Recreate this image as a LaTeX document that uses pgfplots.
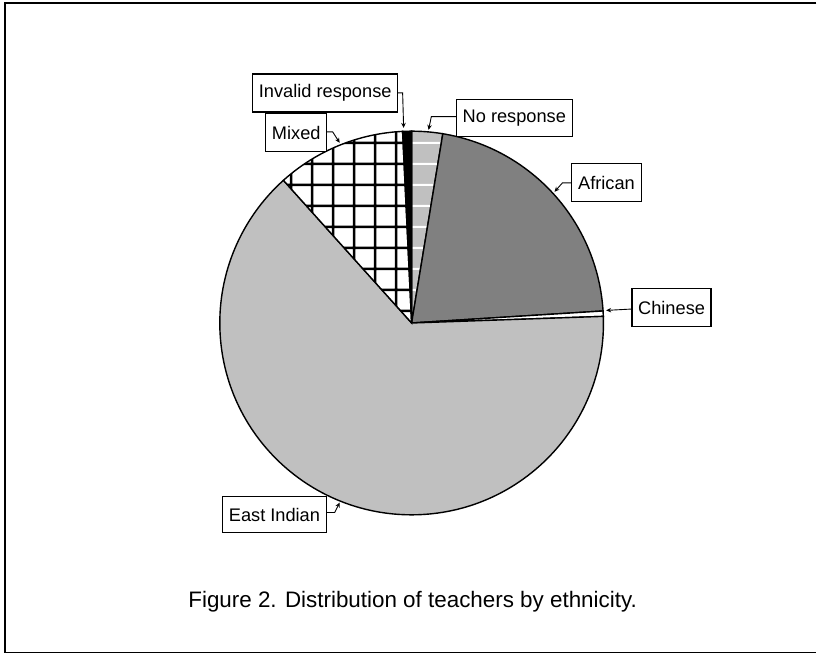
\documentclass[border=0pt]{standalone}
\usepackage{fontspec}
\setmainfont{Liberation Sans}
\usepackage{pgfplots}
\usepackage{pgfplotstable}
\pgfplotsset{compat=1.18}
\usetikzlibrary{arrows.meta,patterns.meta}
\definecolor{lgray}{HTML}{C0C0C0}
\definecolor{dgray}{HTML}{808080}

\pgfdeclarepattern{
  name=hstripes,
  type=uncolored,
  bottom left={\pgfpoint{0bp}{0bp}},
  top right={\pgfpoint{20.7bp}{20.7bp}},
  tile size={\pgfpoint{20.7bp}{20.7bp}},
  code={\pgfpathrectangle{\pgfpoint{-0.5bp}{11.2bp}}{\pgfpoint{21.7bp}{2bp}}\pgfusepath{fill}}
}
\pgfdeclarepattern{
  name=xgrid,
  type=uncolored,
  bottom left={\pgfpoint{0bp}{0bp}},
  top right={\pgfpoint{20.7bp}{20.7bp}},
  tile size={\pgfpoint{20.7bp}{20.7bp}},
  code={\pgfpathrectangle{\pgfpoint{-0.5bp}{10.95bp}}{\pgfpoint{21.7bp}{2.5bp}}%
        \pgfpathrectangle{\pgfpoint{0.95bp}{-0.5bp}}{\pgfpoint{2.5bp}{21.7bp}}%
        \pgfusepath{fill}}
}

% share of teachers (%), clockwise from 12 o'clock
\pgfplotstableread{
slice value
NoResponse 2.6
African 21.4
Chinese 0.45
EastIndian 63.9
Mixed 10.9
Invalid 0.75
}\piedata

\pgfmathsetmacro\cum{0}
\pgfplotsforeachungrouped \i in {0,...,5}{%
  \pgfplotstablegetelem{\i}{value}\of\piedata
  \pgfmathsetmacro\startang{90-3.6*\cum}%
  \pgfmathsetmacro\cum{\cum+\pgfplotsretval}%
  \pgfmathsetmacro\endang{90-3.6*\cum}%
  \expandafter\xdef\csname sA\i\endcsname{\startang}%
  \expandafter\xdef\csname eA\i\endcsname{\endang}%
}
\newcommand\sa[1]{\csname sA#1\endcsname}
\newcommand\ea[1]{\csname eA#1\endcsname}
\newcommand\piewedge[2]{\path[#2] (axis cs:412,330.7) -- ++(\sa{#1}:192bp) arc[start angle=\sa{#1}, end angle=\ea{#1}, radius=192bp] -- cycle;}

\tikzset{
  lbl/.style={draw=black, fill=white, line width=1.3bp, inner sep=0pt,
    font=\fontsize{18.3}{20}\selectfont, anchor=center},
  ldr/.style={line width=0.9bp, -{Stealth[length=5bp,width=4.5bp]}},
}

\begin{document}%
\begin{tikzpicture}
\begin{axis}[x=1bp, y=1bp, xmin=0, xmax=817, ymin=0, ymax=654, hide axis, clip=false]
\path (axis cs:0,0) rectangle (axis cs:817,654);
% frame
\draw[line width=1.5bp] (axis cs:817,651) -- (axis cs:5,651) -- (axis cs:5,1) -- (axis cs:817,1);
% pie wedges
\piewedge{0}{preaction={fill=lgray}, pattern=hstripes, pattern color=white, draw=black, line width=1.4bp}
\piewedge{1}{fill=dgray, draw=black, line width=1.4bp}
\piewedge{2}{fill=white, draw=black, line width=1.4bp}
\piewedge{3}{fill=lgray, draw=black, line width=1.4bp}
\piewedge{4}{preaction={fill=white}, pattern=xgrid, pattern color=black, draw=black, line width=1.4bp}
\piewedge{5}{fill=black, draw=black, line width=1.4bp}
% leaders
\draw[ldr] (axis cs:398,561) -- (axis cs:403,561) -- (axis cs:404,526);
\draw[ldr] (axis cs:456.7,537.3) -- (axis cs:431.7,537.3) -- (axis cs:429,524);
\draw[ldr] (axis cs:327,522) -- (axis cs:333,522) -- (axis cs:340,511);
\draw[ldr] (axis cs:572,471) -- (axis cs:563,471) -- (axis cs:555,462);
\draw[ldr] (axis cs:632.7,344.7) -- (axis cs:606.7,343.3);
\draw[ldr] (axis cs:326.7,141) -- (axis cs:335,141) -- (axis cs:340,151);
% labels
\node[lbl, minimum width=145bp, minimum height=38bp] at (axis cs:325.5,561) {Invalid response};
\node[lbl, minimum width=116bp, minimum height=37bp] at (axis cs:514.8,535.7) {No response};
\node[lbl, minimum width=61bp, minimum height=38bp] at (axis cs:296.5,521.2) {Mixed};
\node[lbl, minimum width=70bp, minimum height=38bp] at (axis cs:607,471) {African};
\node[lbl, minimum width=79bp, minimum height=38bp] at (axis cs:672.2,346) {Chinese};
\node[lbl, minimum width=104bp, minimum height=36bp] at (axis cs:274.7,139) {East Indian};
% caption
\node[font=\fontsize{22.5}{26}\selectfont, anchor=base] at (axis cs:413,45.5) {Figure 2. Distribution of teachers by ethnicity.};
\end{axis}
\end{tikzpicture}%
\end{document}
